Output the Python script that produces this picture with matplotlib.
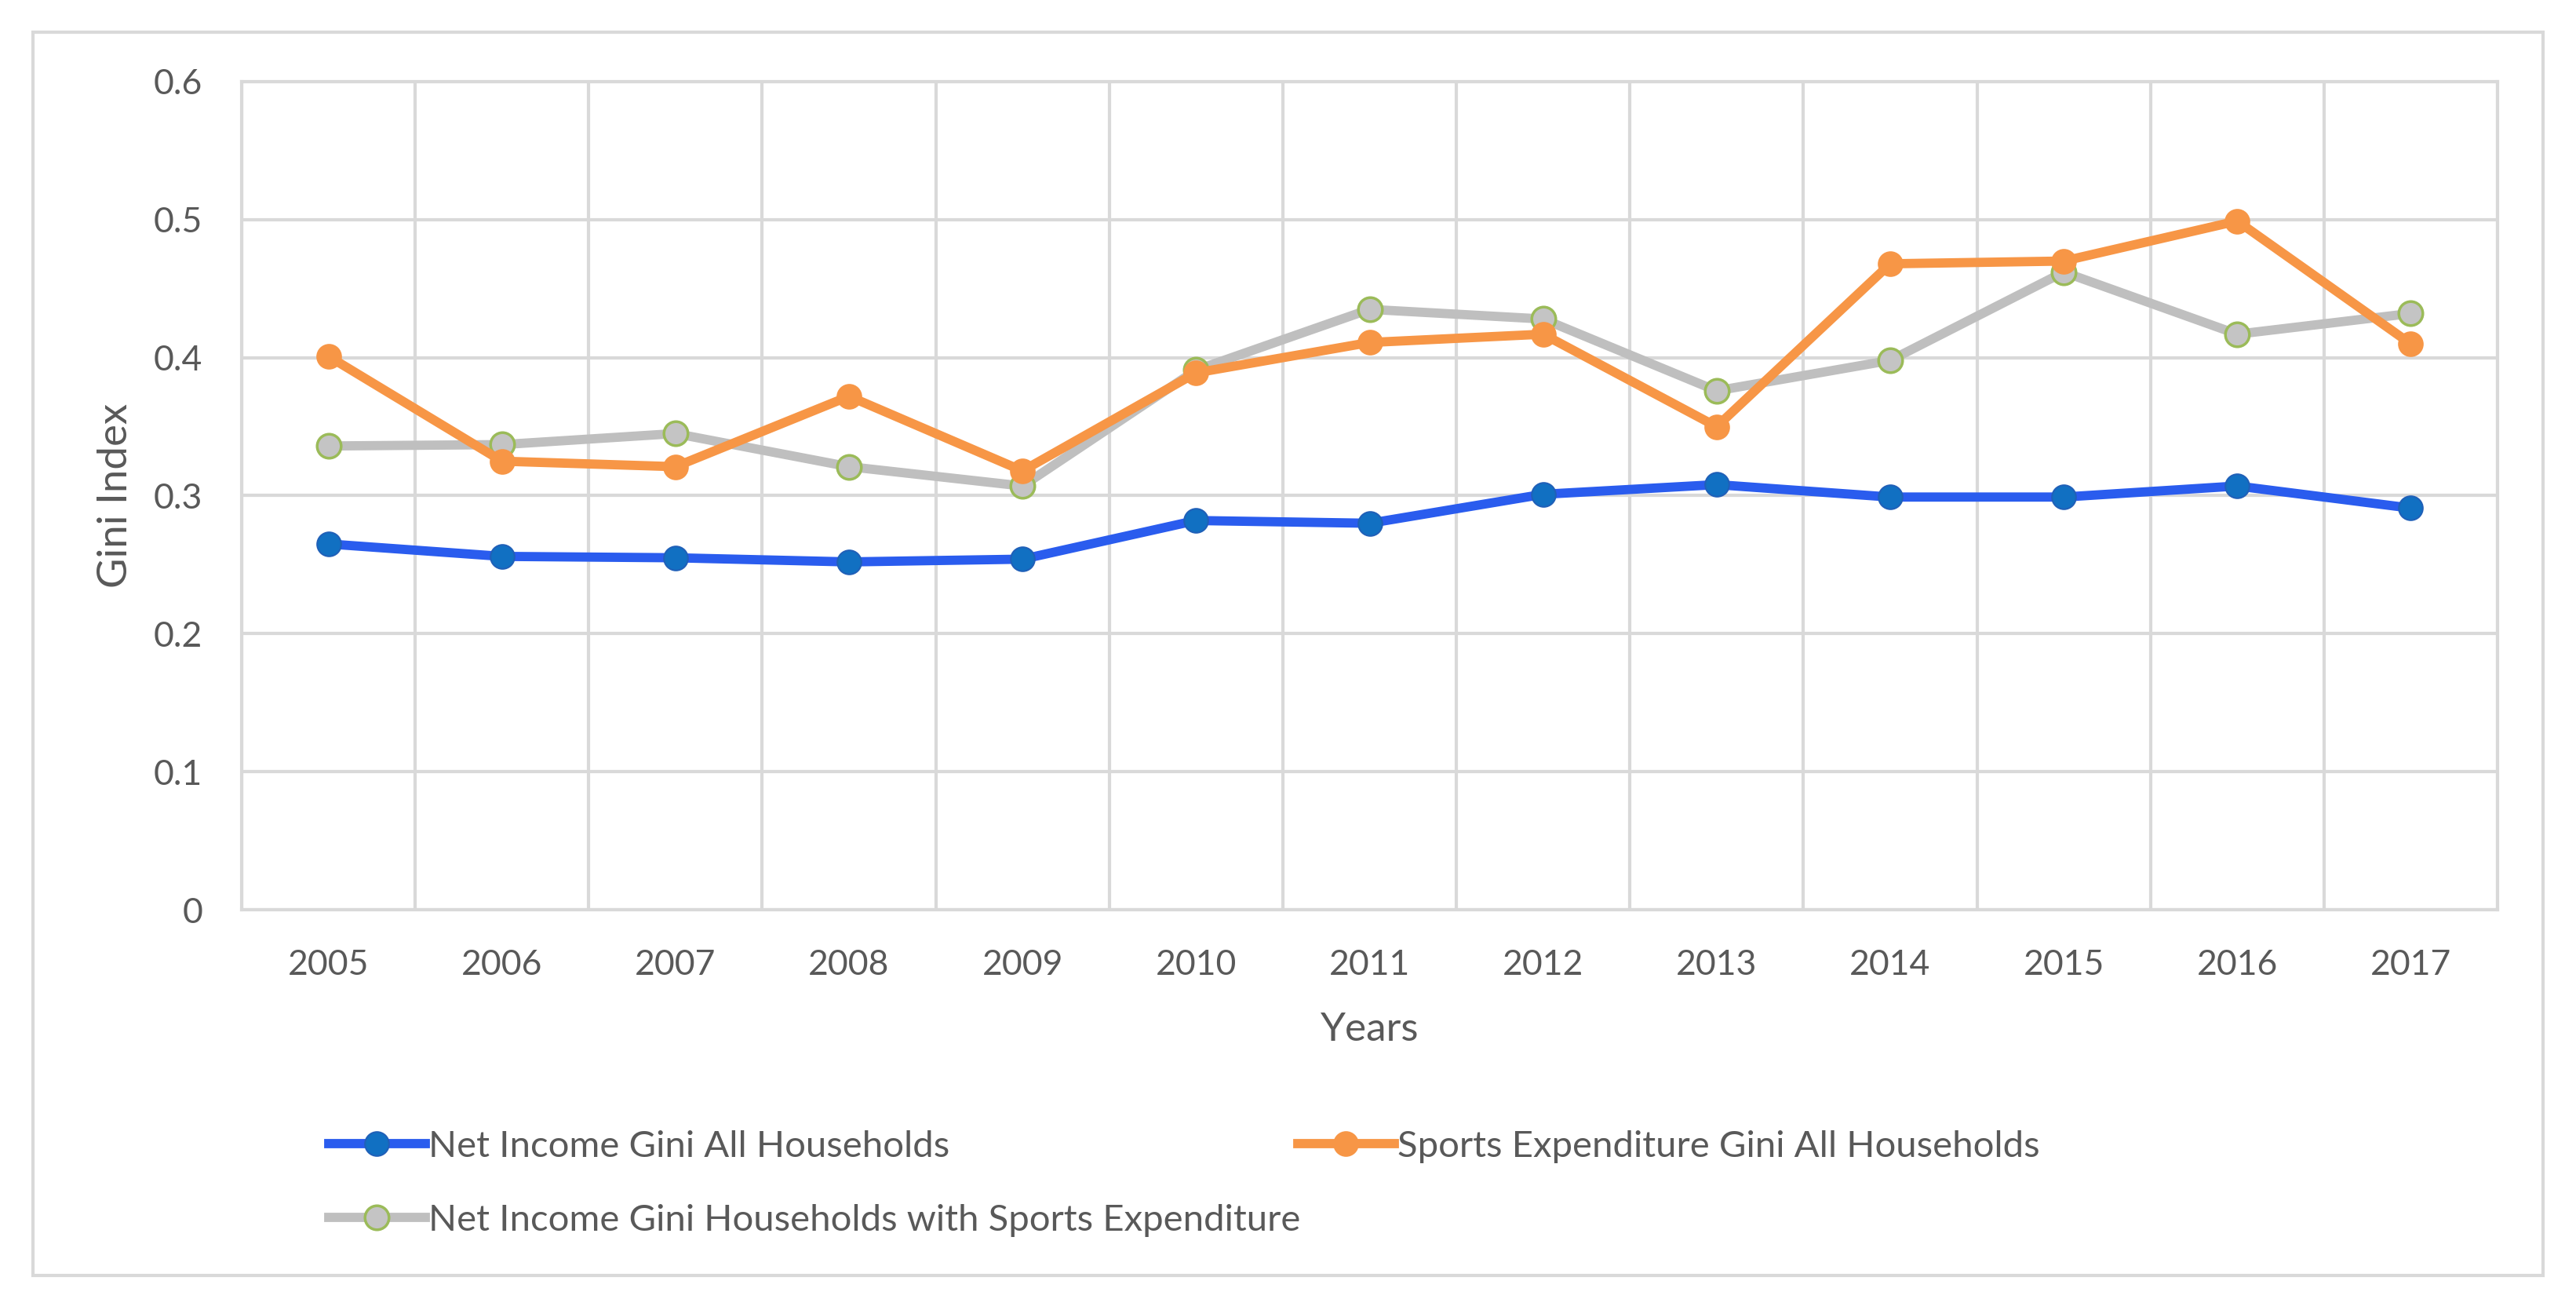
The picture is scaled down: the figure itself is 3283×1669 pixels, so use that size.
import matplotlib
matplotlib.use("Agg")
import matplotlib.pyplot as plt
from matplotlib.patches import Rectangle
from matplotlib.lines import Line2D

years = ["2005", "2006", "2007", "2008", "2009", "2010", "2011",
         "2012", "2013", "2014", "2015", "2016", "2017"]
net_income_all = [0.265, 0.256, 0.255, 0.252, 0.254, 0.282, 0.280,
                  0.301, 0.308, 0.299, 0.299, 0.307, 0.291]
sports_exp_all = [0.401, 0.325, 0.321, 0.372, 0.318, 0.389, 0.411,
                  0.417, 0.350, 0.468, 0.470, 0.499, 0.410]
net_income_sports = [0.336, 0.337, 0.345, 0.321, 0.307, 0.391, 0.435,
                     0.428, 0.376, 0.398, 0.462, 0.417, 0.432]
y_ticks = [0, 0.1, 0.2, 0.3, 0.4, 0.5, 0.6]
y_tick_labels = ["0", "0.1", "0.2", "0.3", "0.4", "0.5", "0.6"]
labels = ["Net Income Gini All Households",
          "Sports Expenditure Gini All Households",
          "Net Income Gini Households with Sports Expenditure"]

plt.rcParams['font.family'] = ['Lato', 'DejaVu Sans']
W, H = 3283, 1669
fig = plt.figure(figsize=(W / 100, H / 100), dpi=100)
ax = fig.add_axes([308 / W, 1 - 1159 / H, (3183 - 308) / W, (1159 - 104) / H])

txt = "#595959"
grid = "#D9D9D9"
x = list(range(len(years)))

styles = [
    dict(color="#2A5CEE", lw=8.5, marker="o", ms=22, mfc="#1170C2", mec="#2060B8", mew=1.5),
    dict(color="#F79646", lw=8.5, marker="o", ms=22, mfc="#F79646", mec="#F79646", mew=1.5),
    dict(color="#BFBFBF", lw=8.5, marker="o", ms=22, mfc="#C4C4C4", mec="#9BBB59", mew=2.5),
]
series = [net_income_all, sports_exp_all, net_income_sports]
draw_order = [2, 1, 0]
for i in draw_order:
    ax.plot(x, series[i], zorder=3 + (2 - i), solid_capstyle="round", **styles[i])

ax.set_xlim(-0.5, len(years) - 0.5)
ax.set_ylim(0, 0.6)
ax.set_yticks(y_ticks)
ax.set_yticklabels(y_tick_labels)
ax.set_xticks(x)
ax.set_xticklabels(years)
ax.grid(False)
for yv in y_ticks:
    ax.axhline(yv, color=grid, lw=3, zorder=1)
for xv in [v - 0.5 for v in range(len(years) + 1)]:
    ax.axvline(xv, color=grid, lw=3, zorder=1)
for s in ax.spines.values():
    s.set_color(grid)
    s.set_linewidth(3)
ax.tick_params(axis="both", which="both", length=0, colors=txt, labelsize=32)
ax.tick_params(axis="y", pad=36)
ax.tick_params(axis="x", pad=36)
ax.set_xlabel("Years", fontsize=37, color=txt, labelpad=28)
ax.set_ylabel("Gini Index", fontsize=38, color=txt, labelpad=18)

# legend entries placed individually
positions = [(419 / W, 1 - 1461 / H), (1654 / W, 1 - 1461 / H), (419 / W, 1 - 1555 / H)]
for i in range(3):
    st = styles[i]
    h = Line2D([0], [0], color=st["color"], lw=st["lw"], marker="o", ms=st["ms"],
               mfc=st["mfc"], mec=st["mec"], mew=st["mew"])
    fig.legend([h], [labels[i]], loc="center left", bbox_to_anchor=positions[i],
               frameon=False, fontsize=34, handlelength=2.6, handletextpad=0.08,
               borderpad=0, borderaxespad=0, labelcolor=txt)

fig.patches.append(Rectangle((42 / W, 1 - 1625 / H), (3241 - 42) / W, (1625 - 41) / H,
                             transform=fig.transFigure, fill=False, edgecolor=grid, lw=3))

fig.savefig("out.png", dpi=100, facecolor="white")
